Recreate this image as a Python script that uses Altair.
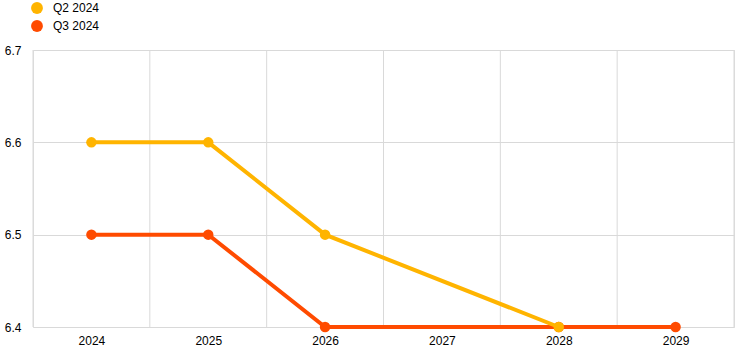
import altair as alt
import pandas as pd

years_q2 = [2024, 2025, 2026, 2028]
values_q2 = [6.6, 6.6, 6.5, 6.4]
years_q3 = [2024, 2025, 2026, 2028, 2029]
values_q3 = [6.5, 6.5, 6.4, 6.4, 6.4]
series = ["Q2 2024", "Q3 2024"]
colors = ["#FFB400", "#FF4B00"]
tick_years = [2024, 2025, 2026, 2027, 2028, 2029]
y_ticks = [6.4, 6.5, 6.6, 6.7]

df_q2 = pd.DataFrame({"year": years_q2, "value": values_q2, "series": series[0]})
df_q3 = pd.DataFrame({"year": years_q3, "value": values_q3, "series": series[1]})
bounds = [y - 0.5 for y in tick_years] + [tick_years[-1] + 0.5]
df_grid = pd.DataFrame({"year": bounds})

FONT = "Liberation Sans"

xscale = alt.Scale(domain=[bounds[0], bounds[-1]], nice=False, zero=False)
yscale = alt.Scale(domain=[y_ticks[0], y_ticks[-1]], nice=False, zero=False)
cscale = alt.Scale(domain=series, range=colors)

x_axis = alt.Axis(values=tick_years, format="d", grid=False, ticks=False,
                  domain=False, labelFont=FONT, labelFontSize=12,
                  labelColor="#000000", labelPadding=8)
x_enc = alt.X("year:Q", scale=xscale, title=None, axis=x_axis)
y_enc = alt.Y("value:Q", scale=yscale, title=None,
              axis=alt.Axis(values=y_ticks, format=".1f", grid=True, gridColor="#d9d9d9",
                            ticks=False, domain=False, labelFont=FONT, labelFontSize=12,
                            labelColor="#000000", labelPadding=12))
c_enc = alt.Color("series:N", scale=cscale, title=None,
                  legend=alt.Legend(orient="none", legendX=-2, legendY=-48,
                                    symbolType="circle", symbolSize=140,
                                    symbolStrokeWidth=0, labelFont=FONT,
                                    labelFontSize=12, labelColor="#000000",
                                    labelOffset=10, rowPadding=6, padding=0))

grid = alt.Chart(df_grid).mark_rule(color="#d9d9d9", strokeWidth=1).encode(
    x=x_enc)


def series_layers(df):
    line = alt.Chart(df).mark_line(strokeWidth=4).encode(x=x_enc, y=y_enc, color=c_enc)
    pts = alt.Chart(df).mark_circle(size=110, opacity=1).encode(x=x_enc, y=y_enc, color=c_enc)
    return [line, pts]


chart = alt.layer(grid, *series_layers(df_q3), *series_layers(df_q2)).properties(
    width=701, height=277,
    autosize=alt.AutoSizeParams(type="none"),
    padding={"left": 33, "top": 50, "right": 11, "bottom": 28},
).configure_view(stroke=None).configure(background="#ffffff")

chart.save("out.html", embed_options={"renderer": "svg", "actions": False})
